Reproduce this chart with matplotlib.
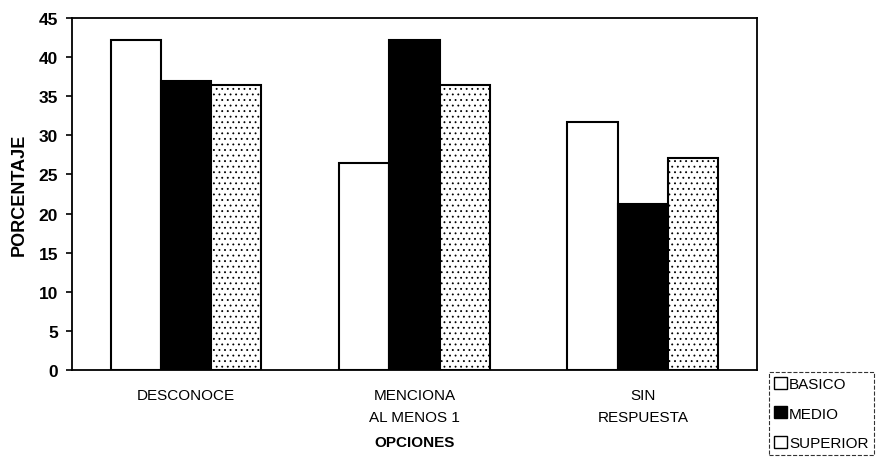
import numpy as np
import matplotlib.pyplot as plt
from matplotlib.patches import Patch

plt.rcParams['font.family'] = ['Liberation Sans', 'DejaVu Sans']
plt.rcParams['hatch.color'] = '#9a9a9a'
plt.rcParams['hatch.linewidth'] = 0.6

# data
categorias = ["DESCONOCE", "MENCIONA\nAL MENOS 1", "SIN\nRESPUESTA"]
basico = [42.2, 26.5, 31.7]
medio = [37.0, 42.2, 21.2]
superior = [36.5, 36.5, 27.1]
niveles = ["BASICO", "MEDIO", "SUPERIOR"]

fig = plt.figure(figsize=(8.82, 4.6), dpi=100)
ax = fig.add_axes([0.0816, 0.1935, 0.7766, 0.765])

x = np.arange(len(categorias))
w = 0.22
ax.bar(x - w, basico, w, color="white", edgecolor="black", linewidth=1.5)
ax.bar(x, medio, w, color="black", edgecolor="black", linewidth=1.5)
ax.bar(x + w, superior, w, color="white", edgecolor="black", linewidth=1.5, hatch="...")

ax.set_xlim(-0.5, 2.5)
ax.set_ylim(0, 45)
ax.set_yticks(range(0, 46, 5))
ax.set_xticks(x)
ax.set_xticklabels(categorias, fontsize=11, linespacing=1.7)
ax.tick_params(axis="x", length=0, pad=13)
ax.tick_params(axis="y", length=4, width=1.2, direction="out", pad=6)
for lab in ax.get_yticklabels():
    lab.set_fontweight("bold")
    lab.set_fontsize(12.5)
for s in ax.spines.values():
    s.set_linewidth(1.3)

ax.set_ylabel("PORCENTAJE", fontsize=13, fontweight="bold", labelpad=8)
ax.set_xlabel("OPCIONES", fontsize=11, fontweight="bold", labelpad=8)

handles = [Patch(facecolor="white", edgecolor="black", label=niveles[0]),
           Patch(facecolor="black", edgecolor="black", label=niveles[1]),
           Patch(facecolor="white", edgecolor="black", label=niveles[2])]
leg = fig.legend(handles=handles, loc="lower left", bbox_to_anchor=(0.872, 0.008),
                 fontsize=11, frameon=True, fancybox=False, handlelength=0.8,
                 handleheight=0.8, handletextpad=0.15, labelspacing=1.0,
                 borderpad=0.35, borderaxespad=0)
leg.get_frame().set_edgecolor("black")
leg.get_frame().set_linestyle("--")
leg.get_frame().set_linewidth(0.8)

plt.savefig("out.png", dpi=100)
